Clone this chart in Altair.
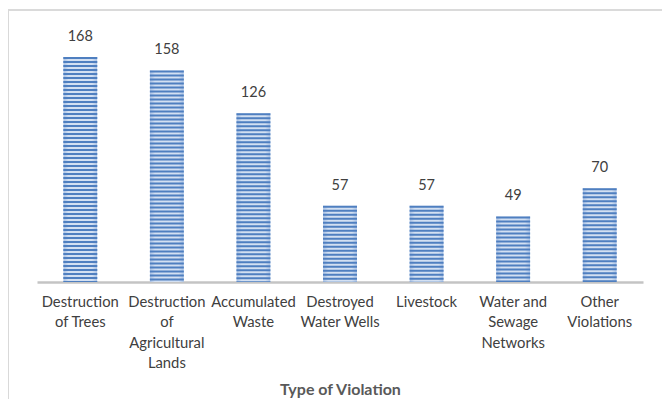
import altair as alt
import pandas as pd

categories = [
    "Destruction\nof Trees",
    "Destruction\nof\nAgricultural\nLands",
    "Accumulated\nWaste",
    "Destroyed\nWater Wells",
    "Livestock",
    "Water and\nSewage\nNetworks",
    "Other\nViolations",
]
values = [168, 158, 126, 57, 57, 49, 70]

df = pd.DataFrame({"cat": categories, "val": values})

FONT = "Lato"
x = alt.X(
    "cat:N",
    sort=categories,
    scale=alt.Scale(paddingInner=0.61, paddingOuter=0.305),
    axis=alt.Axis(
        title="Type of Violation",
        labelExpr="split(datum.label, '\\n')",
        labelAngle=0,
        labelFont=FONT,
        labelFontSize=14.8,
        labelColor="#404040",
        labelPadding=12,
        labelLineHeight=20.5,
        labelBaseline="top",
        ticks=False,
        domainColor="#c4c4c4",
        domainWidth=2.5,
        titleFont=FONT,
        titleFontSize=16,
        titleFontWeight="bold",
        titleColor="#595959",
        titlePadding=11,
        titleBaseline="top",
    ),
)
y = alt.Y("val:Q", scale=alt.Scale(domain=[0, 180]), axis=None)

base = alt.Chart(df)

bars = base.mark_bar(
    fill={
        "gradient": "linear",
        "x1": 0, "y1": 0, "x2": 1, "y2": 0,
        "stops": [
            {"offset": 0, "color": "#a9c1e4"},
            {"offset": 0.15, "color": "#d3e0f2"},
            {"offset": 0.85, "color": "#d3e0f2"},
            {"offset": 1, "color": "#a9c1e4"},
        ],
    },
    cornerRadius=0,
).encode(x=x, y=y)

stripes = base.mark_rule(
    strokeWidth=34, strokeDash=[2, 2], strokeCap="butt", color="#4f7fc0"
).encode(x=alt.X("cat:N", sort=categories), y=alt.Y("val:Q"), y2=alt.datum(0))

labels = base.mark_text(
    dy=-20, font=FONT, fontSize=14.5, color="#404040"
).encode(x=alt.X("cat:N", sort=categories), y=alt.Y("val:Q"), text="val:Q")

frame_top = base.mark_rule(color="#d9d9d9", strokeWidth=1.2).encode(
    x=alt.value(-29), x2=alt.value(700), y=alt.value(-31)
)
frame_left = base.mark_rule(color="#d9d9d9", strokeWidth=1.2).encode(
    x=alt.value(-29), y=alt.value(-31), y2=alt.value(420)
)

chart = alt.layer(frame_top, frame_left, bars, stripes, labels).properties(
    width=606,
    height=241,
    padding={"left": 29, "top": 33, "right": 19, "bottom": 117},
    autosize=alt.AutoSizeParams(type="none"),
).configure_view(stroke=None)

chart.save("out.html", embed_options={"renderer": "svg", "actions": False})
